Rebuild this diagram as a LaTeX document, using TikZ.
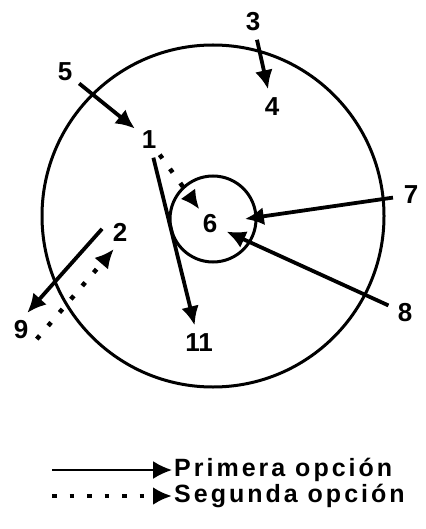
\documentclass[tikz,border=0pt]{standalone}
\usepackage{fontspec}
\setmainfont{Liberation Sans}
\newfontfamily\legfont[LetterSpace=12]{Liberation Sans}
\usetikzlibrary{arrows.meta}

\begin{document}
\begin{tikzpicture}[x=1pt, y=-1pt,
  every node/.style={font=\bfseries},
  num/.style={circle, minimum size=36pt, inner sep=0pt,
    font=\fontsize{26}{26}\selectfont\bfseries},
  ring/.style={line width=3pt},
  first/.style={-{Latex[length=19pt, width=18pt]}, line width=3.8pt},
  second/.style={first, dash pattern=on 4.5pt off 13pt, line width=4.5pt},
  legtext/.style={anchor=west, inner sep=2pt,
    font=\legfont\fontsize{25}{25}\selectfont\bfseries},
]

% Page frame
\useasboundingbox (0,0) rectangle (425,529);

% Outer and inner circle
\draw[ring] (213,216) circle[radius=171pt];
\draw[ring] (213,219) circle[radius=43pt];

% Numbered points
\foreach \n/\x/\y in {1/149/140, 2/120/232, 3/253/22, 4/272/107, 5/65/72,
                      6/210/224, 7/411/195, 8/405/313, 9/21/330, 11/199/343} {
  \node[num] (n\n) at (\x,\y) {\n};
}

% First option
\draw[first] (n5) -- (n1);
\draw[first] (n3) -- (n4);
\draw[first] (n1) -- (n11);
\draw[first, shorten >=17pt] (n7) -- (n6);
\draw[first] (n8) -- (n6);
\draw[first] (n2.170) -- (n9.70);

% Second option
\draw[second] (n1) -- (n6);
\draw[second] (n9.-30) -- (n2.-110);

% Legend
\coordinate (k1) at (52,470);
\coordinate (k2) at (52,496);
\node[legtext] (t1) at (172,470) {Primera opción};
\node[legtext] (t2) at (172,496) {Segunda opción};
\draw[first, line width=2.2pt] (k1) -- (t1);
\draw[second] (k2) -- (t2);

\end{tikzpicture}
\end{document}
